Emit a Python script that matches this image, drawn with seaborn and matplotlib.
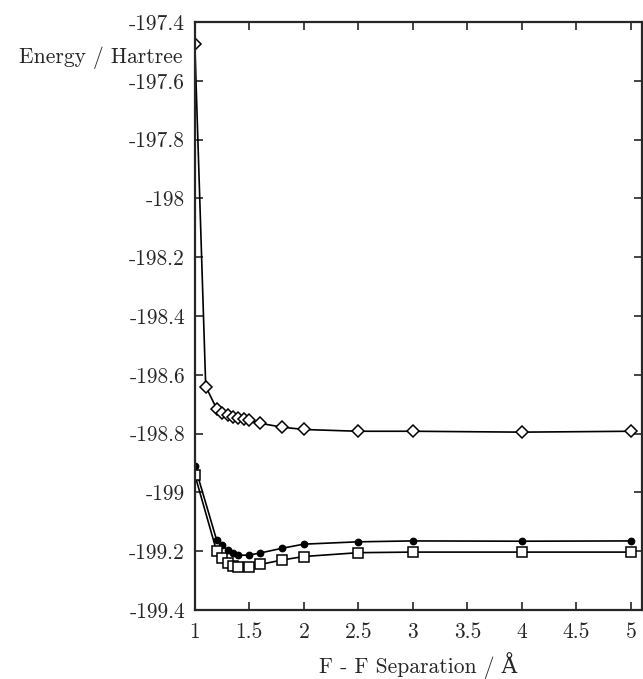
import matplotlib
matplotlib.use("Agg")
import matplotlib.pyplot as plt
import seaborn as sb
import pandas as pd

# DATA
#----------------------------------------------------
sep_diamond = [1.0, 1.1, 1.2, 1.25, 1.3, 1.35, 1.4, 1.45, 1.5, 1.6, 1.8, 2.0, 2.5, 3.0, 4.0, 5.0]
energy_diamond = [-197.475, -198.64, -198.715, -198.73, -198.738, -198.742, -198.746, -198.75,
                  -198.755, -198.765, -198.778, -198.786, -198.792, -198.792, -198.795, -198.792]

sep_circle = [1.0, 1.2, 1.25, 1.3, 1.35, 1.4, 1.5, 1.6, 1.8, 2.0, 2.5, 3.0, 4.0, 5.0]
energy_circle = [-198.91, -199.162, -199.18, -199.196, -199.206, -199.214, -199.213, -199.206,
                 -199.19, -199.176, -199.168, -199.165, -199.166, -199.165]

sep_square = [1.0, 1.2, 1.25, 1.3, 1.35, 1.4, 1.5, 1.6, 1.8, 2.0, 2.5, 3.0, 4.0, 5.0]
energy_square = [-198.94, -199.20, -199.224, -199.24, -199.25, -199.255, -199.255, -199.245,
                 -199.23, -199.218, -199.205, -199.203, -199.203, -199.203]

xtick_vals = [1, 1.5, 2, 2.5, 3, 3.5, 4, 4.5, 5]
xtick_labels = ["1", "1.5", "2", "2.5", "3", "3.5", "4", "4.5", "5"]
ytick_vals = [-197.4, -197.6, -197.8, -198.0, -198.2, -198.4, -198.6, -198.8, -199.0, -199.2, -199.4]
ytick_labels = ["-197.4", "-197.6", "-197.8", "-198", "-198.2", "-198.4", "-198.6", "-198.8",
                "-199", "-199.2", "-199.4"]

# PLOT
#----------------------------------------------------
sb.set_style("ticks")
plt.rcParams["font.family"] = ["cmr10", "DejaVu Serif"]
plt.rcParams["axes.unicode_minus"] = False

fig = plt.figure(figsize=(6.43, 6.79), dpi=100)
ax = fig.add_axes([0.303, 0.1016, 0.695, 0.866])

series = [
    (sep_diamond, energy_diamond, "D", 5.8, "white"),
    (sep_circle, energy_circle, "o", 4.5, "black"),
    (sep_square, energy_square, "s", 6.5, "white"),
]
for xs, ys, mk, ms, fc in series:
    df = pd.DataFrame({"sep": xs, "energy": ys})
    sb.lineplot(data=df, x="sep", y="energy", ax=ax, color="black", linewidth=1.2,
                marker=mk, markersize=ms, markerfacecolor=fc, markeredgecolor="black",
                markeredgewidth=1.1, sort=True)

ax.set_xlim(1, 5.1)
ax.set_ylim(-199.4, -197.4)
ax.set_xticks(xtick_vals)
ax.set_xticklabels(xtick_labels, fontsize=15.5)
ax.set_yticks(ytick_vals)
ax.set_yticklabels(ytick_labels, fontsize=15.5)
ax.tick_params(direction="in", length=6, width=1.2, top=True, right=True)
ax.tick_params(axis="x", pad=9)
ax.tick_params(axis="y", pad=7)
for sp in ax.spines.values():
    sp.set_linewidth(1.6)

ax.set_xlabel("F - F Separation / Å", fontsize=15.5, labelpad=7)
ax.set_ylabel("Energy / Hartree", fontsize=15.5, rotation=0, ha="right", va="center")
ax.yaxis.set_label_coords(-0.027, 0.939)

plt.savefig("out.png", dpi=100)
